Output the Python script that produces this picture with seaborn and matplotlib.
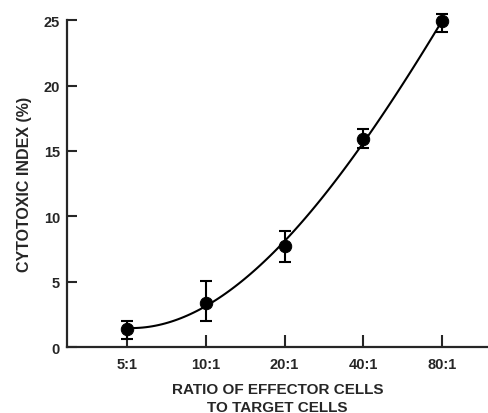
import numpy as np
import pandas as pd
import matplotlib
matplotlib.use('Agg')
import matplotlib.pyplot as plt
import seaborn as sns

# datos
ratios = ['5:1', '10:1', '20:1', '40:1', '80:1']
cytotoxic = [1.4, 3.4, 7.7, 15.9, 24.9]
err_low = [0.8, 1.4, 1.2, 0.7, 0.8]
err_high = [0.6, 1.65, 1.2, 0.8, 0.6]

df = pd.DataFrame({'pos': np.arange(len(ratios)), 'ratio': ratios, 'ci': cytotoxic})

sns.set_style('ticks')
plt.rcParams['font.family'] = ['Liberation Sans', 'DejaVu Sans']
plt.rcParams['font.weight'] = 'bold'

fig = plt.figure(figsize=(4.88, 4.14), dpi=100)
ax = fig.add_axes([0.137, 0.159, 0.863, 0.79])

# curva ajustada
sns.regplot(data=df, x='pos', y='ci', order=3, ci=None, scatter=False, truncate=True,
            line_kws={'color': 'black', 'lw': 1.5}, ax=ax)
eb = ax.errorbar(df['pos'], df['ci'], yerr=[err_low, err_high], fmt='none',
                 ecolor='black', elinewidth=1.5, capsize=4.5, capthick=1.5)
for art in eb.lines[1] + eb.lines[2]:
    art.set_clip_on(False)
sns.scatterplot(data=df, x='pos', y='ci', color='black', s=80, edgecolor='black',
                zorder=5, clip_on=False, ax=ax)

ax.set_xlim(-0.76, 4.58)
ax.set_ylim(0, 25)
ax.set_xticks(df['pos'])
ax.set_xticklabels(ratios)
ax.set_yticks([0, 5, 10, 15, 20, 25])
ax.tick_params(direction='in', width=1.5, labelsize=10.5)
ax.tick_params(axis='x', length=9, pad=7)
ax.tick_params(axis='y', length=7, pad=5)
for lab in ax.get_xticklabels() + ax.get_yticklabels():
    lab.set_fontweight('bold')

sns.despine(ax=ax)
ax.spines['left'].set_linewidth(1.6)
ax.spines['bottom'].set_linewidth(1.6)

ax.set_xlabel('RATIO OF EFFECTOR CELLS\nTO TARGET CELLS', fontsize=11, fontweight='heavy',
              labelpad=8, linespacing=1.35)
ax.set_ylabel('CYTOTOXIC INDEX (%)', fontsize=11.5, fontweight='heavy', labelpad=8)

plt.savefig('out.png', dpi=100)
